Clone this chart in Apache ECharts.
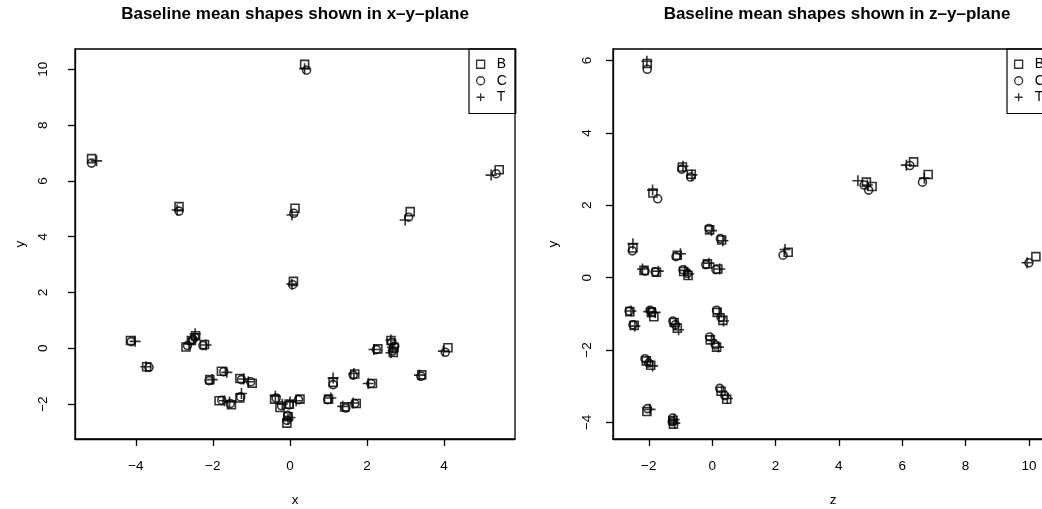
<!DOCTYPE html>
<html>
<head>
<meta charset="utf-8">
<script src="https://cdn.jsdelivr.net/npm/echarts@6/dist/echarts.min.js"></script>
<style>
html,body{margin:0;padding:0;background:#fff;}
#chart{width:1042px;height:509px;}
</style>
</head>
<body>
<div id="chart"></div>
<script>
// ---- data: left panel (x, y) ----
const xyB = [[-5.15,6.80],[-2.88,5.08],[0.38,10.18],[0.13,5.02],[3.12,4.90],[5.43,6.40],[0.09,2.40],[-4.14,0.28],[-3.72,-0.66],[-2.70,0.05],[-2.56,0.28],[-2.45,0.45],[-2.22,0.14],[-2.08,-1.12],[-1.78,-0.82],[-1.84,-1.88],[-1.52,-2.02],[-1.30,-1.78],[-1.30,-1.08],[-0.98,-1.25],[-0.40,-1.82],[-0.26,-2.12],[-0.02,-2.00],[-0.08,-2.68],[-0.05,-2.45],[0.26,-1.82],[1.00,-1.82],[1.12,-1.22],[1.42,-2.10],[1.72,-1.98],[1.68,-0.92],[2.14,-1.26],[2.28,-0.02],[2.62,0.28],[2.70,0.02],[2.68,-0.15],[3.42,-0.95],[4.10,0.02]];
const xyC = [[-5.15,6.64],[-2.88,4.92],[0.43,9.97],[0.10,4.84],[3.08,4.70],[5.35,6.26],[0.07,2.28],[-4.12,0.24],[-3.66,-0.68],[-2.66,0.10],[-2.52,0.32],[-2.47,0.40],[-2.26,0.10],[-2.10,-1.16],[-1.72,-0.84],[-1.77,-1.86],[-1.55,-1.98],[-1.28,-1.74],[-1.26,-1.12],[-1.02,-1.20],[-0.36,-1.78],[-0.22,-2.06],[-0.02,-2.03],[-0.08,-2.58],[-0.06,-2.40],[0.22,-1.84],[0.98,-1.84],[1.12,-1.30],[1.45,-2.14],[1.68,-1.98],[1.64,-0.96],[2.10,-1.26],[2.24,-0.05],[2.64,0.22],[2.72,0.08],[2.66,-0.10],[3.40,-1.00],[4.03,-0.14]];
const xyT = [[-5.02,6.72],[-2.93,4.96],[0.38,10.02],[0.05,4.78],[2.99,4.60],[5.22,6.21],[0.05,2.30],[-4.02,0.25],[-3.74,-0.66],[-2.62,0.16],[-2.50,0.36],[-2.46,0.52],[-2.18,0.12],[-2.02,-1.12],[-1.64,-0.86],[-1.70,-1.88],[-1.57,-1.92],[-1.26,-1.62],[-1.20,-1.10],[-1.08,-1.20],[-0.38,-1.72],[-0.20,-2.00],[0.00,-1.92],[-0.05,-2.55],[0.00,-2.48],[0.16,-1.88],[1.06,-1.78],[1.12,-1.06],[1.37,-2.08],[1.64,-1.96],[1.66,-0.90],[2.03,-1.26],[2.18,-0.04],[2.62,0.30],[2.66,0.04],[2.62,-0.16],[3.36,-0.96],[3.98,-0.10]];

// ---- data: right panel (z, y) ----
const zyB = [[-2.05,5.92],[-0.94,3.06],[-0.66,2.86],[-1.87,2.34],[4.87,2.64],[5.05,2.52],[6.36,3.20],[6.82,2.85],[2.40,0.70],[10.22,0.58],[-2.50,0.82],[-2.15,0.20],[-1.76,0.15],[-1.10,0.62],[-0.90,0.17],[-0.76,0.06],[-0.15,0.38],[0.18,0.24],[-0.08,1.32],[0.30,1.04],[-2.60,-0.94],[-2.46,-1.32],[-1.84,-1.08],[-1.92,-0.96],[-1.20,-1.24],[-1.10,-1.40],[0.16,-0.96],[0.34,-1.18],[-0.06,-1.72],[0.14,-1.92],[-2.08,-2.30],[-1.94,-2.42],[0.28,-3.14],[0.46,-3.36],[-2.06,-3.70],[-1.24,-3.95],[-1.22,-4.05]];
const zyC = [[-2.05,5.76],[-0.96,3.00],[-0.68,2.78],[-1.72,2.18],[4.80,2.56],[4.94,2.42],[6.24,3.10],[6.64,2.64],[2.24,0.62],[10.00,0.41],[-2.52,0.74],[-2.12,0.18],[-1.80,0.16],[-1.14,0.58],[-0.92,0.22],[-0.78,0.12],[-0.20,0.36],[0.12,0.22],[-0.10,1.36],[0.26,1.08],[-2.62,-0.92],[-2.50,-1.30],[-1.90,-0.94],[-1.96,-0.90],[-1.24,-1.20],[-1.16,-1.30],[0.14,-0.90],[0.28,-1.10],[-0.08,-1.64],[0.10,-1.86],[-2.12,-2.24],[-2.00,-2.36],[0.24,-3.06],[0.40,-3.26],[-2.04,-3.62],[-1.24,-3.88],[-1.26,-3.98]];
const zyT = [[-2.06,5.98],[-0.92,3.08],[-0.64,2.84],[-1.88,2.42],[4.60,2.68],[4.90,2.56],[6.13,3.11],[6.70,2.75],[2.30,0.78],[9.94,0.41],[-2.50,0.94],[-2.20,0.24],[-1.70,0.18],[-1.00,0.66],[-0.86,0.20],[-0.74,0.10],[-0.10,0.40],[0.24,0.24],[-0.02,1.30],[0.34,1.02],[-2.56,-0.92],[-2.44,-1.34],[-1.80,-0.96],[-2.00,-0.94],[-1.16,-1.28],[-1.06,-1.44],[0.22,-1.00],[0.36,-1.20],[-0.02,-1.72],[0.20,-1.92],[-2.04,-2.32],[-1.88,-2.44],[0.30,-3.14],[0.48,-3.34],[-1.96,-3.64],[-1.20,-3.92],[-1.18,-4.02]];

// ---- tick labels ----
const xTicksLeft = [-4, -2, 0, 2, 4];
const yTicksLeft = [-2, 0, 2, 4, 6, 8, 10];
const zTicksRight = [-2, 0, 2, 4, 6, 8, 10];
const yTicksRight = [-4, -2, 0, 2, 4, 6];
const seriesNames = ['B', 'C', 'T'];
const titles = ['Baseline mean shapes shown in x\u2013y\u2013plane', 'Baseline mean shapes shown in z\u2013y\u2013plane'];

const FONT = '"Liberation Sans", Arial, Helvetica, sans-serif';
const SQ = 'path://M0,0L10,0L10,10L0,10Z';
const PLUS = 'path://M5,0L5,10M0,5L10,5';
const symbols = {B: SQ, C: 'circle', T: PLUS};
const sizes = {B: 8, C: 8, T: 11};
const fmt = v => String(v).replace('-', '\u2212');

function axisCommon(ticks, margin, rotate) {
  return {
    type: 'value',
    scale: true,
    splitLine: {show: false},
    axisLine: {show: true, onZero: false, lineStyle: {color: '#000', width: 1.3}},
    axisTick: {show: true, inside: false, length: 7, customValues: ticks, lineStyle: {color: '#000', width: 1.3}},
    axisLabel: {customValues: ticks, margin: margin, rotate: rotate, color: '#000', fontSize: 13.5, fontFamily: FONT, formatter: fmt},
    nameTextStyle: {color: '#000', fontSize: 13.5, fontFamily: FONT},
    nameLocation: 'middle'
  };
}

const itemStyle = {color: 'rgba(0,0,0,0)', borderColor: '#000', borderWidth: 1.6};
const series = [];
[[xyB, xyC, xyT], [zyB, zyC, zyT]].forEach((sets, gi) => {
  sets.forEach((d, k) => {
    const n = seriesNames[k];
    series.push({
      name: n, type: 'scatter', xAxisIndex: gi, yAxisIndex: gi,
      data: d, symbol: symbols[n], symbolSize: sizes[n],
      itemStyle: itemStyle, emphasis: {disabled: true}, silent: true
    });
  });
});

function legendAt(left) {
  return {
    left: left, top: 49, orient: 'vertical', selectedMode: false,
    data: seriesNames.map(n => ({name: n, icon: symbols[n]})),
    itemWidth: 22, itemHeight: 8, itemGap: 0,
    padding: [7, 9, 8, 7],
    borderColor: '#000', borderWidth: 1.2, borderRadius: 0,
    itemStyle: {color: 'rgba(0,0,0,0)', borderColor: '#000', borderWidth: 1.3},
    textStyle: {color: '#000', fontSize: 14, lineHeight: 16.5, fontFamily: FONT}
  };
}

const option = {
  backgroundColor: '#fff',
  animation: false,
  title: [
    {text: titles[0], left: 295, top: 6, textAlign: 'center', padding: 0,
     textStyle: {fontSize: 17, fontWeight: 'bold', color: '#000', fontFamily: FONT}},
    {text: titles[1], left: 837, top: 6, textAlign: 'center', padding: 0,
     textStyle: {fontSize: 17, fontWeight: 'bold', color: '#000', fontFamily: FONT}}
  ],
  legend: [legendAt(469), legendAt(1007)],
  grid: [
    {left: 75, top: 49, width: 440, height: 390, show: true, borderColor: '#000', borderWidth: 1.3, backgroundColor: 'transparent', containLabel: false, outerBoundsMode: 'none'},
    {left: 613, top: 49, width: 440, height: 390, show: true, borderColor: '#000', borderWidth: 1.3, backgroundColor: 'transparent', containLabel: false, outerBoundsMode: 'none'}
  ],
  xAxis: [
    Object.assign(axisCommon(xTicksLeft, 20, 0), {gridIndex: 0, min: -5.58, max: 5.84, name: 'x', nameGap: 54}),
    Object.assign(axisCommon(zTicksRight, 20, 0), {gridIndex: 1, min: -3.13, max: 10.76, name: 'z', nameGap: 54})
  ],
  yAxis: [
    Object.assign(axisCommon(yTicksLeft, 25, 90), {gridIndex: 0, min: -3.25, max: 10.73, name: 'y', nameGap: 48}),
    Object.assign(axisCommon(yTicksRight, 19, 90), {gridIndex: 1, min: -4.46, max: 6.32, name: 'y', nameGap: 53})
  ],
  series: series
};

const chart = echarts.init(document.getElementById('chart'), null, {renderer: 'canvas'});
chart.setOption(option);
</script>
</body>
</html>
